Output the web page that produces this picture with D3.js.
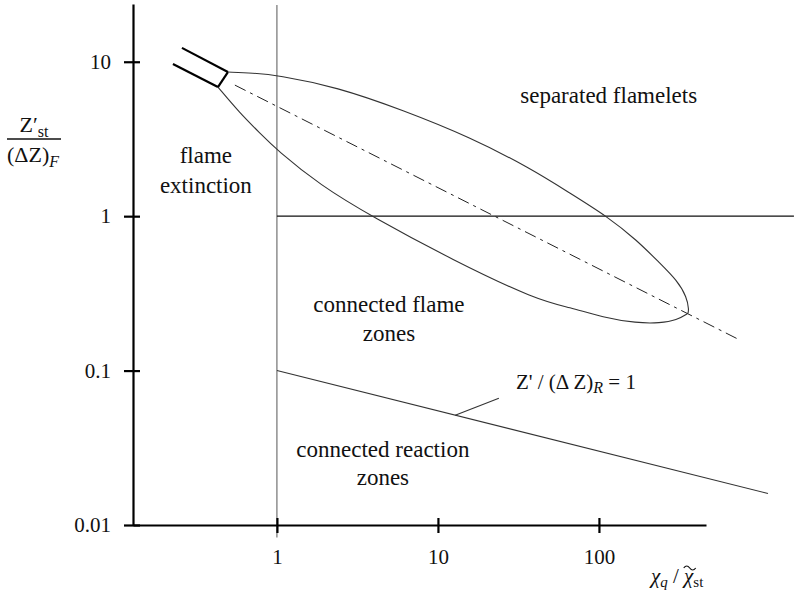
<!DOCTYPE html>
<html>
<head>
<meta charset="utf-8">
<script src="https://cdn.jsdelivr.net/npm/d3@7"></script>
<style>
  body { margin: 0; background: #fff; }
  svg text { font-family: "Liberation Serif", "Times New Roman", Times, "DejaVu Serif", serif; fill: #111; }
</style>
</head>
<body>
<div id="regime_viz"></div>
<script>
// ticks
const xTicks = [1, 10, 100];
const xTickLabels = ["1", "10", "100"];
const yTicks = [0.01, 0.1, 1, 10];
const yTickLabels = ["0.01", "0.1", "1", "10"];

// ellipse boundary of the flamelet region
// upper branch: from nozzle to the right tip
const upperX = [0.496, 0.710, 1, 2.36, 6.06, 15.8, 37.3, 66.1, 112, 172, 239, 305, 352, 362, 357];
const upperY = [8.58, 8.45, 8.20, 6.86, 4.86, 3.25, 2.05, 1.41, 1.0, 0.699, 0.496, 0.385, 0.299, 0.246, 0.235];
// lower branch: from nozzle to the right tip
const lowerX = [0.430, 0.589, 0.784, 1, 1.85, 3.95, 12.4, 41.2, 66.1, 106, 172, 239, 305, 357];
const lowerY = [6.86, 4.65, 3.45, 2.68, 1.59, 0.985, 0.519, 0.286, 0.257, 0.221, 0.203, 0.203, 0.212, 0.235];

// jet nozzle (two thick lines)
const jetTopX = [0.257, 0.496], jetTopY = [12.3, 8.58];
const jetBotX = [0.226, 0.430], jetBotY = [9.66, 6.86];

// dash-dot centre line
const centreX = [0.548, 730], centreY = [7.06, 0.160];

// Z'/(dZ)_R = 1 line and its leader
const reactionX = [1, 1122], reactionY = [0.1, 0.016];
const leaderX = [12.8, 23.9], leaderY = [0.0513, 0.0661];

// region labels
const labelText = ["separated flamelets", "flame", "extinction", "connected flame", "zones", "connected reaction", "zones"];
const labelX = [115, 0.362, 0.362, 4.96, 4.96, 4.55, 4.55];
const labelY = [5.4, 2.2, 1.41, 0.239, 0.155, 0.0274, 0.0181];

const width = 794, height = 603;

const svg = d3.select("#regime_viz")
  .append("svg")
    .attr("width", width)
    .attr("height", height);

const x = d3.scaleLog()
  .domain([Math.pow(10, -0.894), Math.pow(10, 2.665)])
  .range([133, 706]);

const y = d3.scaleLog()
  .domain([0.01, Math.pow(10, 1.374)])
  .range([525, 4]);

const line = d3.line()
  .x(d => x(d[0]))
  .y(d => y(d[1]));

// read points are a bit noisy, so smooth them with a B-spline
const smooth = d3.line()
  .x(d => x(d[0]))
  .y(d => y(d[1]))
  .curve(d3.curveBasis);

const pairs = (xs, ys) => xs.map((v, i) => [v, ys[i]]);

function stroke(d, w, col, dash) {
  const p = svg.append("path")
    .attr("d", d)
    .attr("stroke", col)
    .attr("stroke-width", w)
    .attr("fill", "none");
  if (dash) p.attr("stroke-dasharray", dash);
  return p;
}

// x = 1 vertical guide
stroke(line([[1, 23.3], [1, 0.0083]]), 1, "#555");
// y = 1 horizontal line
stroke(line([[1, 1], [1626, 1]]), 1.4, "#111");
// centre line, dash-dot
stroke(line(pairs(centreX, centreY)), 1, "#222", "12,5,3,5");

// ellipse, two branches meeting at the tip
stroke(smooth(pairs(upperX, upperY)), 1.1, "#333");
stroke(smooth(pairs(lowerX, lowerY)), 1.1, "#333");

// jet nozzle
stroke(line(pairs(jetTopX, jetTopY)), 2.2, "#000");
stroke(line(pairs(jetBotX, jetBotY)), 2.2, "#000");
stroke(line([[jetTopX[1], jetTopY[1]], [jetBotX[1], jetBotY[1]]]), 2.2, "#000");

// reaction-zone line + leader
stroke(line(pairs(reactionX, reactionY)), 1.1, "#333");
stroke(line(pairs(leaderX, leaderY)), 1.1, "#333");

// axes
const xAxis = svg.append("g")
  .attr("transform", `translate(0, ${y(0.01)})`)
  .call(d3.axisBottom(x).tickValues(xTicks).tickFormat((d, i) => xTickLabels[i]).tickSizeOuter(0));
const yAxis = svg.append("g")
  .attr("transform", `translate(${x.range()[0]}, 0)`)
  .call(d3.axisLeft(y).tickValues(yTicks).tickFormat((d, i) => yTickLabels[i]).tickSizeOuter(0));

[xAxis, yAxis].forEach(g => {
  g.attr("font-family", null);
  g.select(".domain").attr("stroke", "#000").attr("stroke-width", 2.2);
  g.selectAll(".tick line").attr("stroke", "#000").attr("stroke-width", 2.2);
  g.selectAll(".tick text")
    .style("font-size", "21px")
    .attr("fill", "#111");
});
xAxis.selectAll(".tick line").attr("y1", -7).attr("y2", 8);
xAxis.selectAll(".tick text").attr("y", 24);
yAxis.selectAll(".tick line").attr("x1", 7).attr("x2", -9);
yAxis.selectAll(".tick text").attr("x", -22);

// region labels
svg.selectAll("text.region")
  .data(labelText)
  .join("text")
    .attr("class", "region")
    .attr("x", (d, i) => x(labelX[i]))
    .attr("y", (d, i) => y(labelY[i]))
    .attr("text-anchor", "middle")
    .style("font-size", "23px")
    .text(d => d);

// annotation  Z' / (Δ Z)_R = 1
const ann = svg.append("text")
  .attr("x", x(30.5))
  .attr("y", y(0.0756))
  .style("font-size", "21px");
ann.append("tspan").text("Z' / (Δ Z)");
ann.append("tspan").attr("font-style", "italic").attr("dy", 4).style("font-size", "16px").text("R");
ann.append("tspan").attr("dy", -4).text(" = 1");

// y axis title (fraction)
const num = svg.append("text")
  .attr("x", 34).attr("y", 132)
  .attr("text-anchor", "middle")
  .style("font-size", "22px");
num.append("tspan").text("Z′");
num.append("tspan").attr("dy", 5).style("font-size", "16px").text("st");
svg.append("line")
  .attr("x1", 7).attr("x2", 61)
  .attr("y1", 139).attr("y2", 139)
  .attr("stroke", "#111").attr("stroke-width", 1.3);
const den = svg.append("text")
  .attr("x", 7).attr("y", 162)
  .style("font-size", "22px");
den.append("tspan").text("(ΔZ)");
den.append("tspan").attr("dy", 5).attr("font-style", "italic").style("font-size", "16px").text("F");

// x axis title  chi_q / chi~_st
const xt = svg.append("text")
  .attr("x", 651).attr("y", 583)
  .style("font-size", "21px");
xt.append("tspan").attr("font-style", "italic").text("χ");
xt.append("tspan").attr("dy", 4).attr("font-style", "italic").style("font-size", "15px").text("q");
xt.append("tspan").attr("dy", -4).text(" / ");
xt.append("tspan").attr("font-style", "italic").text("χ");
xt.append("tspan").attr("dy", 4).style("font-size", "15px").text("st");
// tilde over the second chi, drawn as a small stroke
const chi = xt.node().getExtentOfChar(5);
const tx = chi.x + chi.width / 2 + 1, ty = chi.y + 3;
svg.append("path")
  .attr("d", `M${tx - 6},${ty + 1} q3,-4 6,0 t6,0`)
  .attr("stroke", "#111")
  .attr("stroke-width", 1.2)
  .attr("fill", "none");
</script>
</body>
</html>
